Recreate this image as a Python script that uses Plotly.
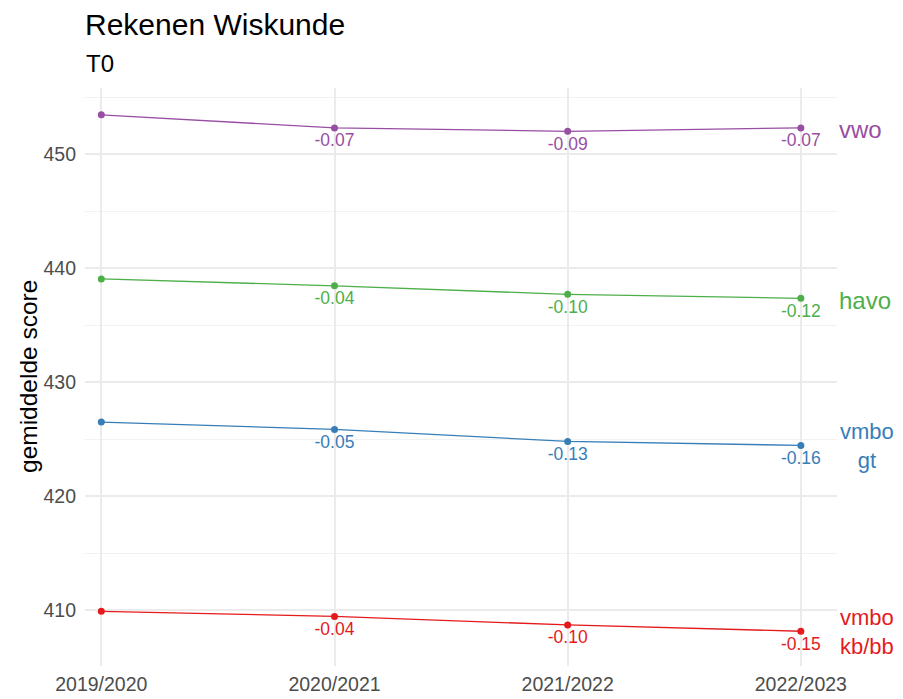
import plotly.graph_objects as go

years = ["2019/2020", "2020/2021", "2021/2022", "2022/2023"]

groups = ["vmbo kb/bb", "vmbo gt", "havo", "vwo"]
group_labels = ["vmbo<br>kb/bb", "vmbo<br>gt", "havo", "vwo"]
colors = ["#E41A1C", "#377EB8", "#4DAF4A", "#984EA3"]

score_kbbb = [409.9, 409.45, 408.7, 408.15]
score_gt = [426.5, 425.85, 424.8, 424.45]
score_havo = [439.05, 438.45, 437.7, 437.35]
score_vwo = [453.45, 452.3, 452.0, 452.3]

effect_kbbb = ["", "-0.04", "-0.10", "-0.15"]
effect_gt = ["", "-0.05", "-0.13", "-0.16"]
effect_havo = ["", "-0.04", "-0.10", "-0.12"]
effect_vwo = ["", "-0.07", "-0.09", "-0.07"]

scores = [score_kbbb, score_gt, score_havo, score_vwo]
effects = [effect_kbbb, effect_gt, effect_havo, effect_vwo]

fig = go.Figure()

for name, label, col, ys, txt in zip(groups, group_labels, colors, scores, effects):
    fig.add_trace(go.Scatter(
        x=list(range(len(years))),
        y=ys,
        mode="lines+markers+text",
        name=name,
        line=dict(color=col, width=1.3),
        marker=dict(color=col, size=7),
        text=txt,
        textposition="bottom center",
        textfont=dict(color=col, size=17.5),
        cliponaxis=False,
    ))
    # label at the end of the line
    two_lines = "<br>" in label
    fig.add_annotation(
        text=label, xref="paper", x=1.0,
        xanchor="center" if two_lines else "left",
        xshift=30 if two_lines else 0,
        yref="y", y=ys[-1], yanchor="middle", yshift=-1 if two_lines else -2,
        showarrow=False, align="center",
        font=dict(color=col, size=22 if two_lines else 24),
    )

fig.update_xaxes(
    tickmode="array",
    tickvals=list(range(len(years))),
    ticktext=years,
    range=[-0.07, 3.155],
    showgrid=True,
    gridcolor="#EBEBEB",
    gridwidth=1.6,
    zeroline=False,
    showline=False,
    automargin=False,
    tickfont=dict(size=19.5, color="#4D4D4D"),
    ticks="",
    ticklabelstandoff=4,
)

fig.update_yaxes(
    range=[405.1, 455.8],
    dtick=10,
    tick0=410,
    showgrid=True,
    gridcolor="#EBEBEB",
    gridwidth=1.6,
    minor=dict(dtick=10, tick0=405, showgrid=True, gridcolor="#F2F2F2", gridwidth=1),
    zeroline=False,
    showline=False,
    automargin=False,
    tickfont=dict(size=19.5, color="#4D4D4D"),
    ticks="",
    ticklabelstandoff=8,
)

fig.update_layout(
    width=903,
    height=699,
    plot_bgcolor="white",
    paper_bgcolor="white",
    showlegend=False,
    font=dict(family="Liberation Sans, Arial, sans-serif"),
    margin=dict(l=85, r=66, t=88, b=33),
    title=dict(text="Rekenen Wiskunde", x=0, xref="paper", xanchor="left",
               y=1 - 24 / 699, yanchor="middle", font=dict(size=30, color="black")),
)

# subtitle
fig.add_annotation(
    text="T0", xref="paper", yref="paper", x=0, y=1, yshift=25, xshift=-1,
    xanchor="left", yanchor="middle", showarrow=False,
    font=dict(size=24, color="black"),
)

# y axis title
fig.add_annotation(
    text="gemiddelde score", xref="paper", yref="paper", x=0, y=0.5, xshift=-57,
    xanchor="center", yanchor="middle", textangle=-90, showarrow=False,
    font=dict(size=24.5, color="black"),
)

# page has a default 8px body margin; drop it so the figure fills the window
fig.write_html(
    "out.html",
    config={"displayModeBar": False},
    post_script="document.body.style.margin='0';document.body.style.overflow='hidden';",
)
